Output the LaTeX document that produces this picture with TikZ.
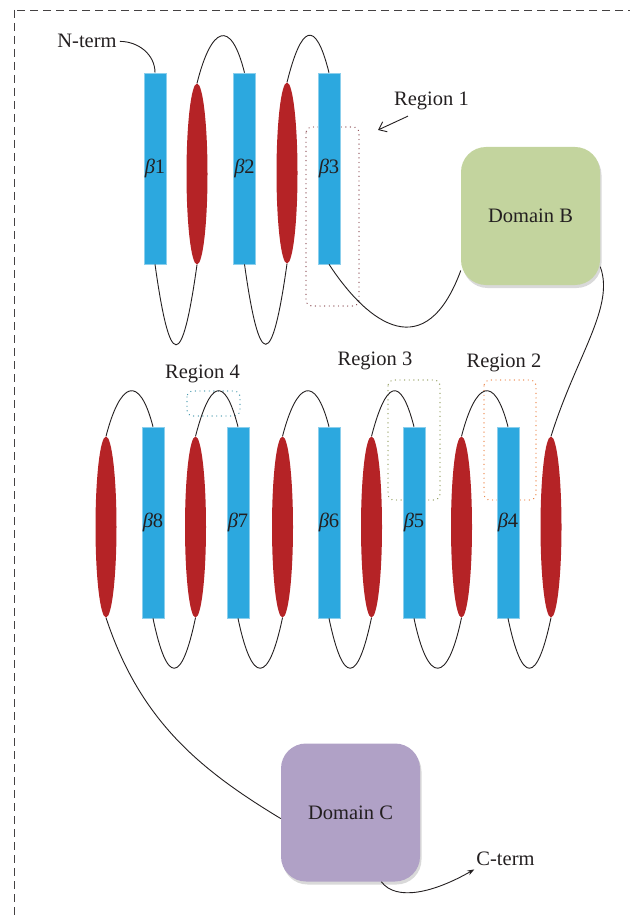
\documentclass[tikz,border=0pt]{standalone}
\usepackage{fontspec}
\setmainfont{Liberation Serif}
\usetikzlibrary{shapes.geometric,arrows.meta,shadows}
\definecolor{strandblue}{RGB}{44,168,223}
\definecolor{helixred}{RGB}{181,35,38}
\definecolor{domgreen}{RGB}{195,212,158}
\definecolor{dompurple}{RGB}{176,161,198}
\definecolor{reg1col}{RGB}{145,85,92}
\definecolor{reg2col}{RGB}{236,135,75}
\definecolor{reg3col}{RGB}{150,160,100}
\definecolor{reg4col}{RGB}{75,155,175}
\definecolor{txtgray}{RGB}{35,31,32}
\begin{document}
\begin{tikzpicture}[x=1pt,y=1pt]
                  \tikzstyle{every node}+=[inner sep=0pt,text=txtgray,font=\fontsize{20.5}{24}\selectfont]
                  \tikzstyle{strand}=[rectangle,fill=strandblue,draw=strandblue!55!white,line width=0.6pt,minimum width=22pt,minimum height=191pt]
                  \tikzstyle{helix}=[ellipse,fill=helixred,minimum width=21pt,minimum height=181pt]
                  \tikzstyle{dombox}=[rectangle,rounded corners=25pt,minimum width=139pt,minimum height=138pt,drop shadow={shadow xshift=1.5pt,shadow yshift=-3pt,opacity=0.3}]
                  \tikzstyle{region}=[rounded corners=6pt,line width=1.4pt,line cap=round,dash pattern=on 0.01pt off 4.6pt]
                  \tikzstyle{chainline}=[txtgray,line width=0.9pt]
                  \useasboundingbox (0,0) rectangle (629,-917);
                  \draw [txtgray!85,line width=0.8pt,dash pattern=on 8pt off 5pt] (14,-10) rectangle (700,-1000);
                  \draw [region,reg1col] (306,-127) rectangle (359,-306);
                  \draw [region,reg4col] (187,-391) rectangle (240,-416);
                  \draw [region,reg3col] (388,-380) rectangle (440,-500);
                  \draw [region,reg2col] (484,-380) rectangle (536,-500);
                  \node [strand] (b1) at (155,-168.5) {\textit{β}1};
                  \node [helix] (h1) at (197,-174) {};
                  \node [strand] (b2) at (244.5,-168.5) {\textit{β}2};
                  \node [helix] (h2) at (287,-173) {};
                  \node [strand] (b3) at (329,-168.5) {\textit{β}3};
                  \node [helix] (h3) at (106,-527) {};
                  \node [strand] (b8) at (153,-522.5) {\textit{β}8};
                  \node [helix] (h4) at (195.5,-527) {};
                  \node [strand] (b7) at (238,-522.5) {\textit{β}7};
                  \node [helix] (h5) at (282.5,-527) {};
                  \node [strand] (b6) at (329,-522.5) {\textit{β}6};
                  \node [helix] (h6) at (371.5,-527) {};
                  \node [strand] (b5) at (414,-522.5) {\textit{β}5};
                  \node [helix] (h7) at (461.5,-527) {};
                  \node [strand] (b4) at (508,-522.5) {\textit{β}4};
                  \node [helix] (h8) at (551,-527) {};
                  \node [dombox,fill=domgreen] (dB) at (530.5,-216) {Domain B};
                  \node [dombox,fill=dompurple] (dC) at (350.5,-812.5) {Domain C};
                  \node [anchor=base] (nterm) at (87,-48) {N-term};
                  \node [anchor=base] (cterm) at (505.5,-865) {C-term};
                  \node [anchor=base] (r1lab) at (431.5,-106) {Region 1};
                  \node [anchor=base] (r2lab) at (504,-367) {Region 2};
                  \node [anchor=base] (r3lab) at (375,-365) {Region 3};
                  \node [anchor=base] (r4lab) at (202.5,-378) {Region 4};
                  \coordinate (r1tip) at (378,-130);
                  \draw [chainline,-{Straight Barb[length=7pt,width=11pt]}] ([shift={(14,-5.5)}]r1lab.south west) -- (r1tip);
                  \draw [chainline] ([xshift=3pt]nterm.east) to[out=0,in=90] (b1.north);
                  \draw [chainline] (b1.south) .. controls +(15,-107) and +(-15,-107) .. (h1.south);
                  \draw [chainline] (h1.north) .. controls +(14,56) and +(-14,56) .. (b2.north);
                  \draw [chainline] (b2.south) .. controls +(15,-107) and +(-15,-107) .. (h2.south);
                  \draw [chainline] (h2.north) .. controls +(14,56) and +(-14,56) .. (b3.north);
                  \draw [chainline] (b3.south) .. controls +(40,-61) and +(-35,-95) .. (dB.218);
                  \draw [chainline] (dB.-36) .. controls +(15,-40) and +(25,80) .. (h8.north);
                  \draw [chainline] (h8.south) .. controls +(-14,-67) and +(14,-67) .. (b4.south);
                  \draw [chainline] (b4.north) .. controls +(-14,54) and +(14,54) .. (h7.north);
                  \draw [chainline] (h7.south) .. controls +(-14,-67) and +(14,-67) .. (b5.south);
                  \draw [chainline] (b5.north) .. controls +(-14,54) and +(14,54) .. (h6.north);
                  \draw [chainline] (h6.south) .. controls +(-14,-67) and +(14,-67) .. (b6.south);
                  \draw [chainline] (b6.north) .. controls +(-14,54) and +(14,54) .. (h5.north);
                  \draw [chainline] (h5.south) .. controls +(-14,-67) and +(14,-67) .. (b7.south);
                  \draw [chainline] (b7.north) .. controls +(-14,54) and +(14,54) .. (h4.north);
                  \draw [chainline] (h4.south) .. controls +(-14,-67) and +(14,-67) .. (b8.south);
                  \draw [chainline] (b8.north) .. controls +(-14,54) and +(14,54) .. (h3.north);
                  \draw [chainline] (h3.south) .. controls +(34,-103) and +(-81,49) .. (dC.185);
                  \draw [chainline,-{Stealth[length=7pt,width=5pt]}] (dC.-66) .. controls +(15,-20) and +(-40,-23) .. ([shift={(-2,-4)}]cterm.south west);
              \end{tikzpicture}
\end{document}
